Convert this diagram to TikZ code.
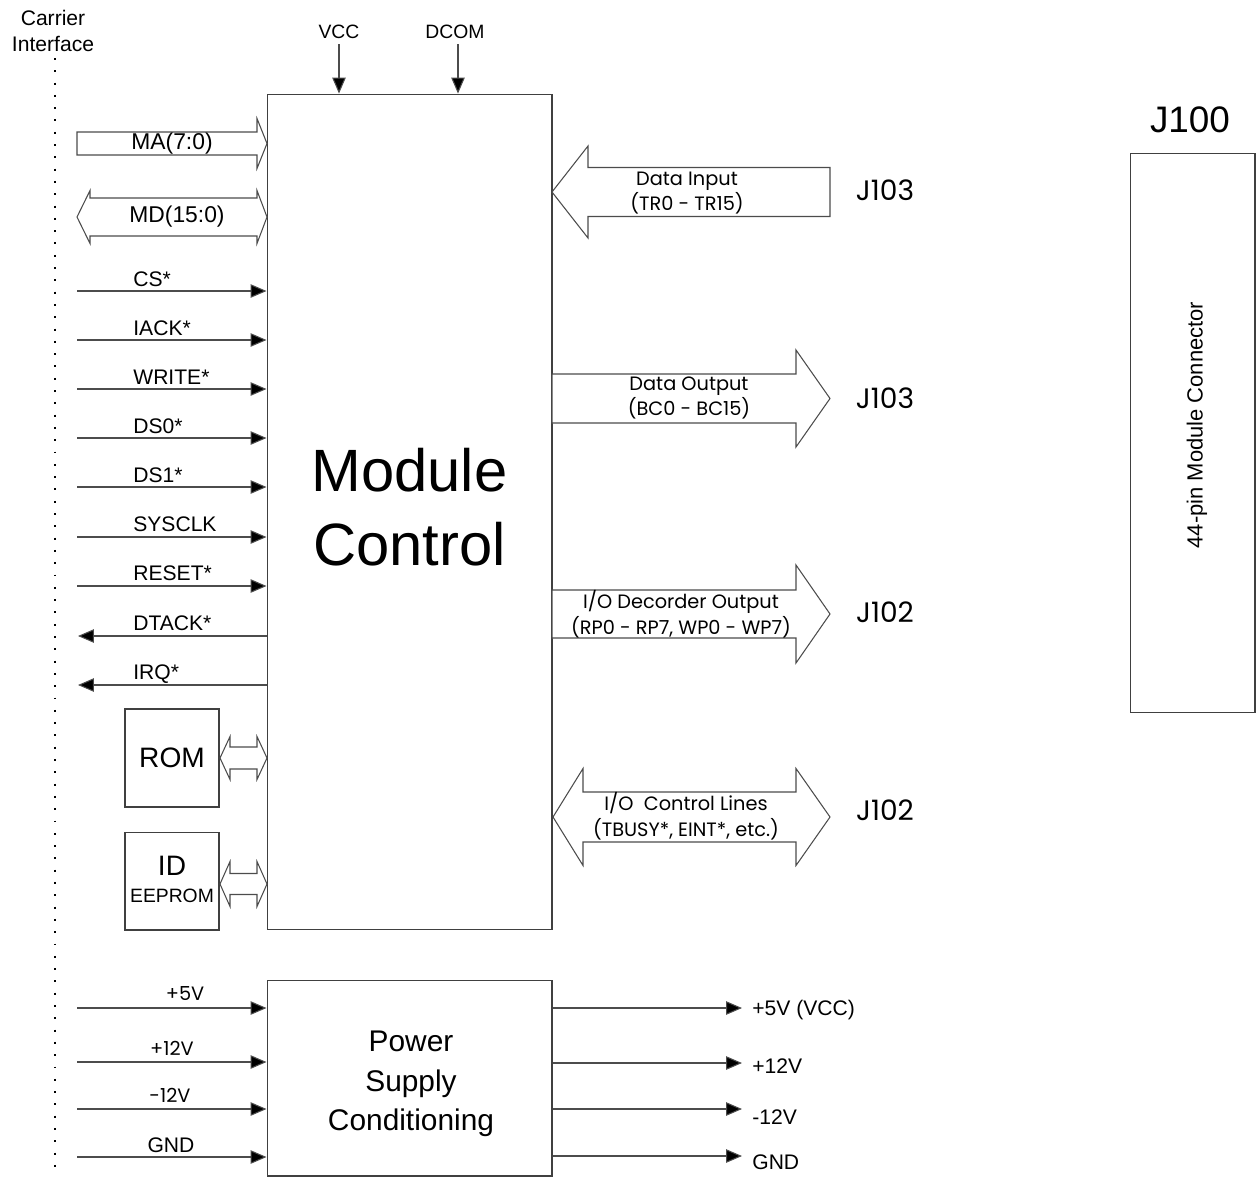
\documentclass[tikz,border=0pt]{standalone}
\usepackage{fontspec}
\setmainfont{Liberation Sans}
\newfontfamily\gothfont{Poppins}
\usepackage{tikz}
\usetikzlibrary{arrows.meta,positioning}
\tikzset{
  blk/.style={draw=black!75, line width=0.6pt, inner sep=0pt},
  sig/.style={draw=black!70, line width=0.6pt, -{Triangle[length=0.32cm,width=0.27cm,fill=black]}},
  bus/.style={draw=black!70, line width=0.6pt, line join=miter, fill=white},
  lbl/.style={font=\fontsize{12}{14}\selectfont, inner sep=0pt},
  glbl/.style={font=\gothfont\fontsize{11}{14.5}\selectfont, inner sep=0pt, align=center},
  jlbl/.style={font=\gothfont\fontsize{16}{18}\selectfont, inner sep=0pt},
  carrier/.style={draw=black, line width=1.1pt, dash pattern=on 1.1pt off 5.9pt},
}
% hollow bus arrows: right / left pointing and double ended
\newcommand{\busright}[6]{\draw[bus] ({#1},{#4-#5}) -- ({#2},{#4-#5}) -- ({#2},{#4-#6}) -- ({#3},{#4}) -- ({#2},{#4+#6}) -- ({#2},{#4+#5}) -- ({#1},{#4+#5}) -- cycle;}
\newcommand{\busleft}[6]{\draw[bus] ({#3},{#4-#5}) -- ({#2},{#4-#5}) -- ({#2},{#4-#6}) -- ({#1},{#4}) -- ({#2},{#4+#6}) -- ({#2},{#4+#5}) -- ({#3},{#4+#5}) -- cycle;}
\newcommand{\busboth}[7]{\draw[bus] ({#1},{#5}) -- ({#2},{#5-#7}) -- ({#2},{#5-#6}) -- ({#3},{#5-#6}) -- ({#3},{#5-#7}) -- ({#4},{#5}) -- ({#3},{#5+#7}) -- ({#3},{#5+#6}) -- ({#2},{#5+#6}) -- ({#2},{#5+#7}) -- cycle;}
\begin{document}
\begin{tikzpicture}[x=0.02cm, y=-0.02cm]
\useasboundingbox (0,0) rectangle (1256,1180);
% carrier side
\node[lbl, align=center, font=\fontsize{12}{15}\selectfont] (carrier) at (53,31) {Carrier\\Interface};
\draw[carrier] (55,58) -- (55,1172);
% main blocks
\node[blk, minimum width=5.7cm, minimum height=16.72cm] (mc) at (409.5,512) {};
\node[font=\fontsize{34}{42}\selectfont, align=center, inner sep=0pt] (mctext) at (409.5,507) {Module\\Control};
\node[blk, minimum width=1.88cm, minimum height=1.96cm, font=\fontsize{16}{18}\selectfont] (rom) at (172,758) {ROM};
\node[blk, minimum width=1.88cm, minimum height=1.96cm] (eeprom) at (172,881) {};
\node[inner sep=0pt, font=\fontsize{16}{18}\selectfont] (idtext) at (172,866) {ID};
\node[inner sep=0pt, font=\fontsize{11}{13}\selectfont] (eetext) at (172,896) {EEPROM};
\node[blk, minimum width=5.7cm, minimum height=3.92cm] (ps) at (409.5,1078) {};
\node[align=center, inner sep=0pt, font=\fontsize{17}{22.5}\selectfont] (pstext) at (411,1084) {Power\\Supply\\Conditioning};
\node[blk, minimum width=2.5cm, minimum height=11.2cm] (j100) at (1192.5,433) {};
\node[inner sep=0pt, font=\fontsize{21}{24}\selectfont] (j100lbl) at (1190,120) {J100};
\node[inner sep=0pt, rotate=90, font=\fontsize{12.5}{14}\selectfont] (j100text) at (1197,425) {44-pin Module Connector};
% supply pins on top
\node[lbl, font=\fontsize{11}{13}\selectfont] (vcc) at (339,32) {VCC};
\node[lbl, font=\fontsize{11}{13}\selectfont] (dcom) at (455,32) {DCOM};
\draw[sig] ([yshift=-0.1cm]vcc.south) -- (vcc.south |- mc.north);
\draw[sig] ([xshift=0.06cm,yshift=-0.1cm]dcom.south) -- ([xshift=0.06cm]dcom.south |- mc.north);
% address and data buses
\busright{77}{257}{267}{143.5}{11.5}{25}
\node[lbl, font=\fontsize{13}{15}\selectfont] (ma) at (172,144) {MA(7:0)};
\busboth{77}{90}{257}{267}{217}{19}{26.5}
\node[lbl, font=\fontsize{13}{15}\selectfont] (md) at (177,217) {MD(15:0)};
% control signals in
\coordinate (cs) at (77,291);
\draw[sig] (cs) -- (cs -| mc.west);
\node[lbl, anchor=base west] (cslbl) at (133,286) {CS*};
\coordinate (iack) at (77,340);
\draw[sig] (iack) -- (iack -| mc.west);
\node[lbl, anchor=base west] (iacklbl) at (133,335) {IACK*};
\coordinate (write) at (77,389);
\draw[sig] (write) -- (write -| mc.west);
\node[lbl, anchor=base west] (writelbl) at (133,384) {WRITE*};
\coordinate (dso) at (77,438);
\draw[sig] (dso) -- (dso -| mc.west);
\node[lbl, anchor=base west] (dsolbl) at (133,433) {DS0*};
\coordinate (dsi) at (77,487);
\draw[sig] (dsi) -- (dsi -| mc.west);
\node[lbl, anchor=base west] (dsilbl) at (133,482) {DS1*};
\coordinate (sysclk) at (77,537);
\draw[sig] (sysclk) -- (sysclk -| mc.west);
\node[lbl, anchor=base west] (sysclklbl) at (133,531) {SYSCLK};
\coordinate (reset) at (77,586);
\draw[sig] (reset) -- (reset -| mc.west);
\node[lbl, anchor=base west] (resetlbl) at (133,580) {RESET*};
% signals out
\coordinate (dtack) at (78,636);
\draw[sig] (dtack -| mc.west) -- (dtack);
\node[lbl, anchor=base west] (dtacklbl) at (133,630) {DTACK*};
\coordinate (irq) at (78,685);
\draw[sig] (irq -| mc.west) -- (irq);
\node[lbl, anchor=base west] (irqlbl) at (133,679) {IRQ*};
% memories
\busboth{220}{230}{257}{267}{758}{11}{21.5}
\busboth{220}{230}{257}{267}{884}{10.5}{22.5}
% J103 / J102 side
\busleft{552}{588}{830}{192}{24.5}{46}
\node[glbl] (din) at (687,193) {Data Input\\(TR0 - TR15)};
\node[jlbl] (jdin) at (885,190) {J103};
\busright{552}{796}{830}{398.5}{24.5}{48.5}
\node[glbl] (dout) at (689,398) {Data Output\\(BC0 - BC15)};
\node[jlbl] (jdout) at (885,398) {J103};
\busright{552}{796}{830}{614}{24}{49}
\node[glbl] (iodec) at (681,614) {I/O Decorder Output\\(RP0 - RP7, WP0 - WP7)};
\node[jlbl] (jiodec) at (885,612) {J102};
\busboth{553}{583}{796}{830}{817}{25}{48.5}
\node[glbl] (ioctl) at (686,816) {I/O\ \ Control Lines\\(TBUSY*, EINT*, etc.)};
\node[jlbl] (jioctl) at (885,810) {J102};
% power in
\coordinate (pfive) at (77,1008);
\draw[sig] (pfive) -- (pfive -| ps.west);
\node[glbl, anchor=base] (pfivelbl) at (185,1000) {+5V};
\coordinate (ptwelve) at (77,1062);
\draw[sig] (ptwelve) -- (ptwelve -| ps.west);
\node[glbl, anchor=base] (ptwelvelbl) at (172,1055) {+12V};
\coordinate (mtwelve) at (77,1109);
\draw[sig] (mtwelve) -- (mtwelve -| ps.west);
\node[glbl, anchor=base] (mtwelvelbl) at (170,1102) {-12V};
\coordinate (gnd) at (77,1157);
\draw[sig] (gnd) -- (gnd -| ps.west);
\node[lbl, anchor=base] (gndlbl) at (171,1152) {GND};
% power out
\coordinate (ofive) at (742,1008);
\draw[sig] (ofive -| ps.east) -- (ofive);
\node[lbl, anchor=west] (ofivelbl) at (752,1010) {+5V (VCC)};
\coordinate (otwelve) at (742,1063);
\draw[sig] (otwelve -| ps.east) -- (otwelve);
\node[lbl, anchor=west] (otwelvelbl) at (752,1066) {+12V};
\coordinate (omtwelve) at (742,1109);
\draw[sig] (omtwelve -| ps.east) -- (omtwelve);
\node[lbl, anchor=west] (omtwelvelbl) at (752,1117) {-12V};
\coordinate (ognd) at (742,1156);
\draw[sig] (ognd -| ps.east) -- (ognd);
\node[lbl, anchor=west] (ognd) at (752,1162) {GND};
\end{tikzpicture}
\end{document}
